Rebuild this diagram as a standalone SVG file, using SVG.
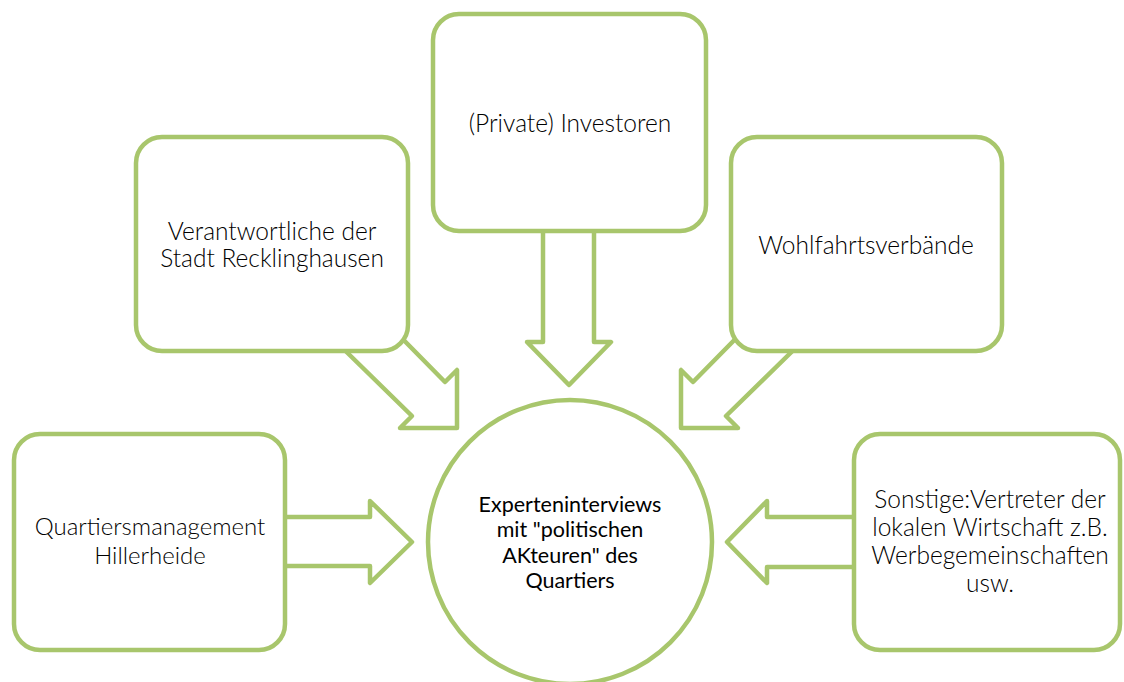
<svg xmlns="http://www.w3.org/2000/svg" width="1124" height="682" viewBox="0 0 1124 682">
<style>
.box{fill:#fff;stroke:#a8c66c;stroke-width:4.5}
.arr{fill:#fff;stroke:#a8c66c;stroke-width:4.5;stroke-linejoin:round}
.lbl{font-family:Lato,"Liberation Sans",sans-serif;font-weight:300;font-size:24.5px;fill:#000;text-anchor:middle}
.ctr{font-family:Lato,"Liberation Sans",sans-serif;font-weight:400;font-size:21.5px;fill:#000;text-anchor:middle}
</style>
<rect width="1124" height="682" fill="#fff"/>
<g id="connectors">
<polygon class="arr" points="250,517 370,517 370,501 412,542 370,583 370,566 250,566"/>
<polygon class="arr" points="900,517 767,517 767,501 727,542 767,583 767,567 900,567"/>
<polygon class="arr" points="543,200 543,342 527,342 569,385 611,342 594,342 594,200"/>
<polygon class="arr" points="380,316 445,382 457,370 457,428 400,428 412,416 320,326"/>
<polygon class="arr" points="758,316 693,382 681,370 681,428 738,428 726,416 818,326"/>
</g>
<g id="node-top">
<rect class="box" x="433" y="14" width="273" height="217" rx="26"/>
<text class="lbl" x="570" y="132">(Private) Investoren</text>
</g>
<g id="node-topleft">
<rect class="box" x="136" y="137" width="272" height="214" rx="26"/>
<text class="lbl" x="272" y="240">Verantwortliche der</text>
<text class="lbl" x="272" y="267">Stadt Recklinghausen</text>
</g>
<g id="node-topright">
<rect class="box" x="731" y="137" width="271" height="214" rx="26"/>
<text class="lbl" x="866" y="254">Wohlfahrtsverbände</text>
</g>
<g id="node-left">
<rect class="box" x="14" y="434" width="271" height="216" rx="26"/>
<text class="lbl" x="150" y="535" style="font-size:24px">Quartiersmanagement</text>
<text class="lbl" x="150" y="564" style="font-size:24px">Hillerheide</text>
</g>
<g id="node-right">
<rect class="box" x="854" y="434" width="266" height="216" rx="26"/>
<text class="lbl" x="990" y="508">Sonstige:Vertreter der</text>
<text class="lbl" x="990" y="536">lokalen Wirtschaft z.B.</text>
<text class="lbl" x="990" y="564">Werbegemeinschaften</text>
<text class="lbl" x="990" y="592">usw.</text>
</g>
<g id="node-center">
<circle class="box" cx="570" cy="542" r="142"/>
<text class="ctr" x="570" y="512">Experteninterviews</text>
<text class="ctr" x="570" y="537">mit "politischen</text>
<text class="ctr" x="570" y="563">AKteuren" des</text>
<text class="ctr" x="570" y="588">Quartiers</text>
</g>
</svg>
